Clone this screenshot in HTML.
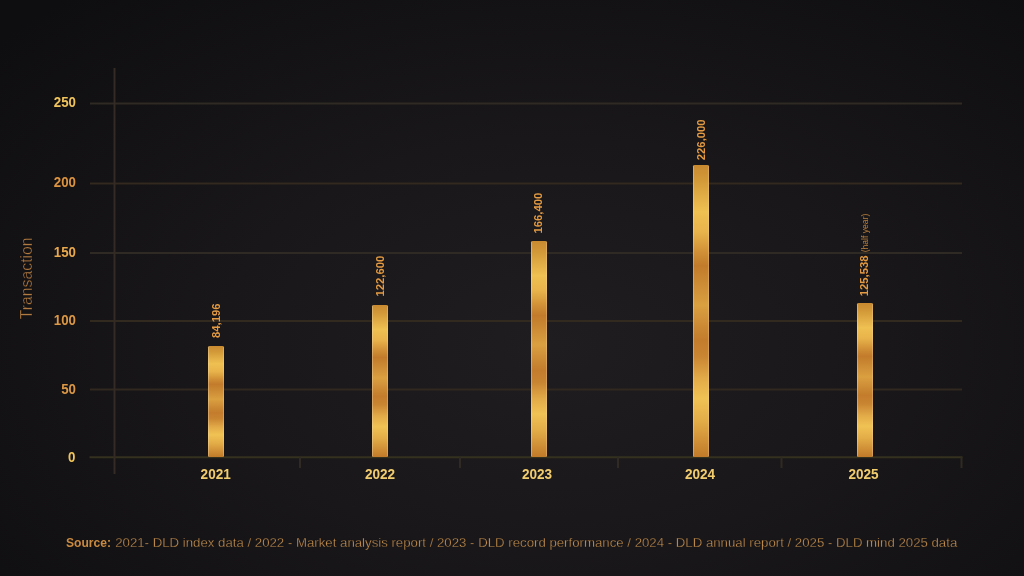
<!DOCTYPE html>
<html><head><meta charset="utf-8">
<style>
html,body{margin:0;padding:0;width:1024px;height:576px;overflow:hidden;}
body{background:#141215;background:radial-gradient(ellipse 72% 80% at 54% 60%, #1f1d20 0%, #19171a 45%, #0e0d10 100%);font-family:"Liberation Sans",sans-serif;}
svg{position:absolute;left:0;top:0;will-change:transform;}
</style></head>
<body>
<svg width="1024" height="576" viewBox="0 0 1024 576">
<defs>
<linearGradient id="gold" x1="0" y1="0" x2="0" y2="1">
<stop offset="0" stop-color="#c98a30"/>
<stop offset="0.05" stop-color="#d29838"/>
<stop offset="0.16" stop-color="#efc052"/>
<stop offset="0.23" stop-color="#e8b34b"/>
<stop offset="0.30" stop-color="#d08f36"/>
<stop offset="0.345" stop-color="#c27b2b"/>
<stop offset="0.41" stop-color="#cd8c36"/>
<stop offset="0.48" stop-color="#daa040"/>
<stop offset="0.54" stop-color="#ce8d37"/>
<stop offset="0.60" stop-color="#c37c2c"/>
<stop offset="0.655" stop-color="#c98532"/>
<stop offset="0.73" stop-color="#e2aa48"/>
<stop offset="0.80" stop-color="#f0c254"/>
<stop offset="0.88" stop-color="#e2ab47"/>
<stop offset="1" stop-color="#c17a29"/>
</linearGradient>
<linearGradient id="edge" x1="0" y1="0" x2="1" y2="0">
<stop offset="0" stop-color="#f4e0b8" stop-opacity="0.35"/>
<stop offset="0.0625" stop-color="#f4e0b8" stop-opacity="0.35"/>
<stop offset="0.0626" stop-color="#f4e0b8" stop-opacity="0"/>
<stop offset="0.9374" stop-color="#f4e0b8" stop-opacity="0"/>
<stop offset="0.9375" stop-color="#f4e0b8" stop-opacity="0.3"/>
<stop offset="1" stop-color="#f4e0b8" stop-opacity="0.3"/>
</linearGradient>
</defs>
<g stroke="#2f2a23" stroke-width="2" fill="none">
<line x1="90" y1="103.5" x2="962" y2="103.5"/>
<line x1="90" y1="183.5" x2="962" y2="183.5" stroke="#33291f"/>
<line x1="90" y1="253" x2="962" y2="253"/>
<line x1="90" y1="321" x2="962" y2="321" stroke="#32291f"/>
<line x1="90" y1="389.5" x2="962" y2="389.5" stroke="#312820"/>
<line x1="89.5" y1="457.2" x2="962.5" y2="457.2" stroke="#35311f"/>
<line x1="114.5" y1="68" x2="114.5" y2="474" stroke="#332b24"/>
<line x1="300" y1="457" x2="300" y2="468"/>
<line x1="460" y1="457" x2="460" y2="468"/>
<line x1="618" y1="457" x2="618" y2="468"/>
<line x1="781.5" y1="457" x2="781.5" y2="468"/>
<line x1="961.5" y1="457" x2="961.5" y2="468"/>
</g>
<g fill="url(#gold)">
<rect x="208" y="346" width="16" height="111" rx="1.5"/>
<rect x="372" y="305" width="16" height="152" rx="1.5"/>
<rect x="531" y="241" width="16" height="216" rx="1.5"/>
<rect x="693" y="165" width="16" height="292" rx="1.5"/>
<rect x="857" y="303" width="16" height="154" rx="1.5"/>
</g>
<g fill="url(#edge)">
<rect x="208" y="346" width="16" height="111" rx="1.5"/>
<rect x="372" y="305" width="16" height="152" rx="1.5"/>
<rect x="531" y="241" width="16" height="216" rx="1.5"/>
<rect x="693" y="165" width="16" height="292" rx="1.5"/>
<rect x="857" y="303" width="16" height="154" rx="1.5"/>
</g>
<g font-family="Liberation Sans" font-weight="bold" font-size="14" text-anchor="end">
<text transform="translate(76,106.6) scale(0.95,1)" fill="#f0c45c">250</text>
<text transform="translate(76,186.7) scale(0.95,1)" fill="#dc9440">200</text>
<text transform="translate(76,256.6) scale(0.95,1)" fill="#e8a84c">150</text>
<text transform="translate(76,325.4) scale(0.95,1)" fill="#dc9844">100</text>
<text transform="translate(76,393.6) scale(0.95,1)" fill="#dc9844">50</text>
<text transform="translate(75.3,462.4) scale(0.95,1)" fill="#f0c45c">0</text>
</g>
<g font-family="Liberation Sans" font-weight="bold" font-size="14" text-anchor="middle" fill="#f2cd6e">
<text transform="translate(215.7,479) scale(0.97,1)">2021</text>
<text transform="translate(380,479) scale(0.97,1)">2022</text>
<text transform="translate(537,479) scale(0.97,1)">2023</text>
<text transform="translate(700,479) scale(0.97,1)">2024</text>
<text transform="translate(863.5,479) scale(0.97,1)">2025</text>
</g>
<g font-family="Liberation Sans" font-weight="bold" font-size="11.3" fill="#e39a42">
<text transform="translate(219.8,338) rotate(-90)">84,196</text>
<text transform="translate(384,296.5) rotate(-90)">122,600</text>
<text transform="translate(541.8,233.5) rotate(-90)">166,400</text>
<text transform="translate(705.4,160.2) rotate(-90)">226,000</text>
<text transform="translate(867.5,296.3) rotate(-90)">125,538 <tspan font-weight="normal" font-size="8.6" fill="#b8803e">(half year)</tspan></text>
</g>
<text transform="translate(31.6,319.2) rotate(-90) scale(0.985,1)" font-family="Liberation Sans" font-size="16" fill="#b07a40" stroke="#151316" stroke-width="0.35">Transaction</text>
<text transform="translate(66,547) scale(0.93,1)" font-family="Liberation Sans" font-weight="bold" font-size="13" fill="#c98a40">Source:</text>
<text x="115.2" y="547" font-family="Liberation Sans" font-size="13.23" fill="#ca9450" stroke="#151316" stroke-width="0.3">2021- DLD index data / 2022 - Market analysis report / 2023 - DLD record performance / 2024 - DLD annual report / 2025 - DLD mind 2025 data</text>
</svg>
</body></html>
